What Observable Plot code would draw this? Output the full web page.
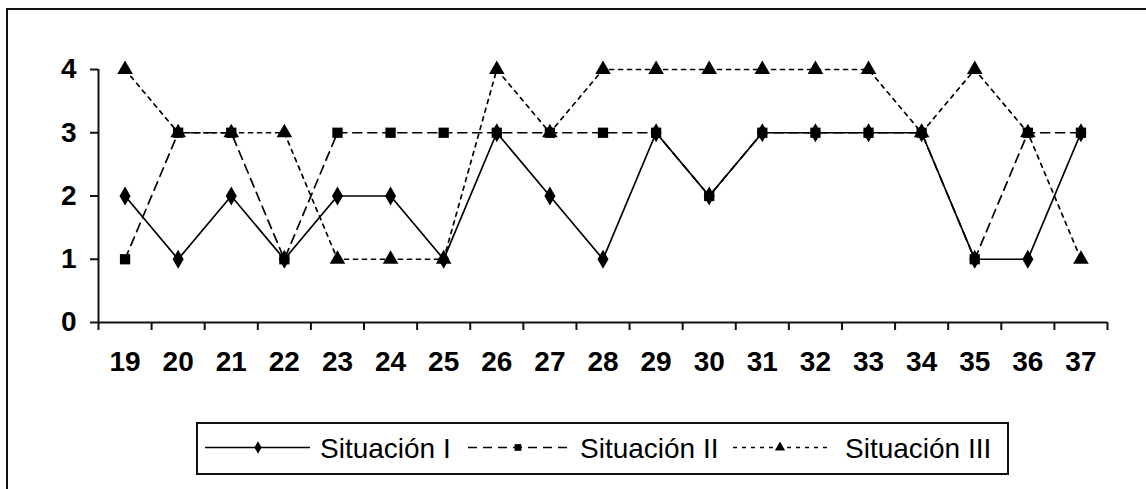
<!DOCTYPE html>
<html>
<head>
<meta charset="utf-8">
<script src="https://cdn.jsdelivr.net/npm/d3@7"></script>
<script src="https://cdn.jsdelivr.net/npm/@observablehq/plot@0.6"></script>
<style>
  html, body { margin: 0; padding: 0; background: #fff; overflow: hidden; }
  #page { position: relative; width: 1146px; height: 489px; overflow: hidden;
          font-family: "Liberation Sans", Arial, sans-serif; }
  #chart { position: absolute; left: 0; top: 0; }
  #frame { position: absolute; left: 6px; top: 8px; width: 1400px; height: 700px;
           border-top: 2px solid #111; border-left: 2px solid #111; pointer-events: none; }
  #legend { position: absolute; left: 196px; top: 422px; width: 809px; height: 49px;
            border: 2px solid #111; background: #fff; }
  #legend svg { display: block; }
</style>
</head>
<body>
<div id="page">
  <div id="chart"></div>
  <div id="legend"></div>
  <div id="frame"></div>
</div>
<script>
// Categories along the horizontal axis
const years = [19, 20, 21, 22, 23, 24, 25, 26, 27, 28, 29, 30, 31, 32, 33, 34, 35, 36, 37];

// Values per situation
const situacionI   = [2, 1, 2, 1, 2, 2, 1, 3, 2, 1, 3, 2, 3, 3, 3, 3, 1, 1, 3];
const situacionII  = [1, 3, 3, 1, 3, 3, 3, 3, 3, 3, 3, 2, 3, 3, 3, 3, 1, 3, 3];
const situacionIII = [4, 3, 3, 3, 1, 1, 1, 4, 3, 4, 4, 4, 4, 4, 4, 3, 4, 3, 1];

const yTicks = [0, 1, 2, 3, 4];
const seriesNames = ["Situación I", "Situación II", "Situación III"];

// Visual style of each series
const styles = [
  { values: situacionI,   dash: null,  symbol: "diamond",  r: 5.8, width: 1.7 },
  { values: situacionII,  dash: "9,6", symbol: "square",   r: 5.8, width: 1.7 },
  { values: situacionIII, dash: "4,5", symbol: "triangle", r: 5.8, width: 1.7 }
];

// Tick marks sit between categories
const boundaries = years.map(d => d - 0.5).concat([years[years.length - 1] + 0.5]);
const x0 = boundaries[0], x1 = boundaries[boundaries.length - 1];

const lineMarks = styles.map((s) => {
  const rows = years.map((yr, j) => ({ year: yr, value: s.values[j] }));
  return Plot.line(rows, { x: "year", y: "value", stroke: "#000", strokeWidth: s.width,
                           strokeDasharray: s.dash ?? undefined });
});
const dotMarks = styles.map((s) => {
  const rows = years.map((yr, j) => ({ year: yr, value: s.values[j] }));
  return Plot.dot(rows, { x: "year", y: "value", symbol: s.symbol, r: s.r, fill: "#000", stroke: "none" });
});

const blank = () => "";

const chart = Plot.plot({
  width: 1146,
  height: 400,
  marginLeft: 98,
  marginRight: 39,
  marginTop: 69,
  marginBottom: 78,
  style: { fontFamily: "'Liberation Sans', Arial, sans-serif", background: "transparent", color: "#000" },
  x: { type: "linear", domain: [x0, x1] },
  y: { type: "linear", domain: [0, 4] },
  marks: [
    // tick lines
    Plot.axisY({ ticks: yTicks, tickSize: 8, tickFormat: blank, label: null, stroke: "#111", strokeWidth: 2 }),
    Plot.axisX({ ticks: boundaries, tickSize: 8, tickFormat: blank, label: null, stroke: "#111", strokeWidth: 2 }),
    // tick labels
    Plot.axisY({ ticks: yTicks, tickSize: 0, tickPadding: 22, tickFormat: d3.format("d"), label: null,
                 fontSize: 28, fontWeight: "bold", fill: "#000" }),
    Plot.axisX({ ticks: years, tickSize: 0, tickPadding: 29, tickFormat: d3.format("d"), label: null,
                 fontSize: 28, fontWeight: "bold", fill: "#000" }),
    // axis lines
    Plot.ruleY([0], { x1: x0, x2: x1, stroke: "#111", strokeWidth: 2 }),
    Plot.ruleX([x0], { y1: 0, y2: 4, stroke: "#111", strokeWidth: 2 }),
    ...lineMarks,
    ...dotMarks
  ]
});
document.getElementById("chart").appendChild(chart);

// Legend: line sample with marker, then the series name
const legendItems = [
  { sx1: 7,   sx2: 112, mx: 60,  tx: 122 },
  { sx1: 270, sx2: 370, mx: 320, tx: 382 },
  { sx1: 535, sx2: 632, mx: 582, tx: 647 }
];
const lsvg = d3.select("#legend").append("svg").attr("width", 809).attr("height", 49);
const cy = 23.5;
legendItems.forEach((it, i) => {
  const s = styles[i];
  lsvg.append("line")
    .attr("x1", it.sx1).attr("x2", it.sx2).attr("y1", cy).attr("y2", cy)
    .attr("stroke", "#000").attr("stroke-width", 1.6)
    .attr("stroke-dasharray", s.dash);
  const sym = { diamond: d3.symbolDiamond, square: d3.symbolSquare, triangle: d3.symbolTriangle }[s.symbol];
  lsvg.append("path")
    .attr("transform", `translate(${it.mx},${cy})`)
    .attr("d", d3.symbol(sym, 45)())
    .attr("fill", "#000");
  lsvg.append("text")
    .attr("x", it.tx).attr("y", cy).attr("dy", "0.36em")
    .attr("font-size", 28).attr("fill", "#000")
    .attr("font-family", "'Liberation Sans', Arial, sans-serif")
    .text(seriesNames[i]);
});
</script>
</body>
</html>
